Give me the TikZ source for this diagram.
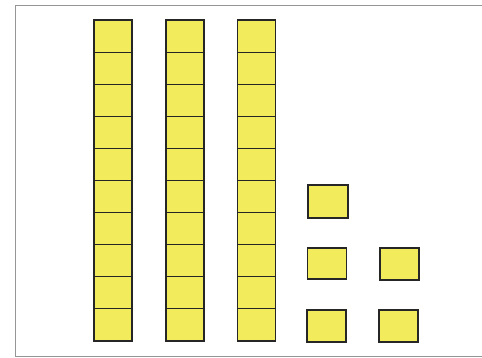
\documentclass[tikz,border=0pt]{standalone}
\definecolor{cubeyellow}{RGB}{242,236,92}
\definecolor{framegray}{RGB}{150,150,150}
\begin{document}
\begin{tikzpicture}[x=1pt,y=-1pt,
  cube/.style={draw=black!85,fill=cubeyellow,line width=1.1pt,inner sep=0pt,outer sep=0pt,
    minimum width=38pt,minimum height=32.1pt},
  single/.style={draw=black!85,fill=cubeyellow,line width=1.1pt,inner sep=0pt,outer sep=0pt,
    minimum width=39pt,minimum height=32pt}]
\useasboundingbox (0,0) rectangle (482,358);
\fill[white] (0,0) rectangle (482,358);
\draw[framegray,line width=0.6pt] (15,5) -- (482,5);
\draw[framegray,line width=0.6pt] (15,5) -- (15,356) -- (482,356);
\foreach \c/\x in {1/113,2/185,3/256.5}{
  \foreach \r in {0,...,9}{
    \node[cube] (c\c r\r) at (\x,{20+16.05+32.1*\r}) {};
  }
}
\node[single,minimum width=40pt,minimum height=33pt] (s1) at (328,201.5) {};
\node[single,minimum height=31pt] (s2) at (327,263.5) {};
\node[single] (s3) at (399.5,264) {};
\node[single] (s4) at (326.5,326) {};
\node[single] (s5) at (398.5,326) {};
\end{tikzpicture}
\end{document}
